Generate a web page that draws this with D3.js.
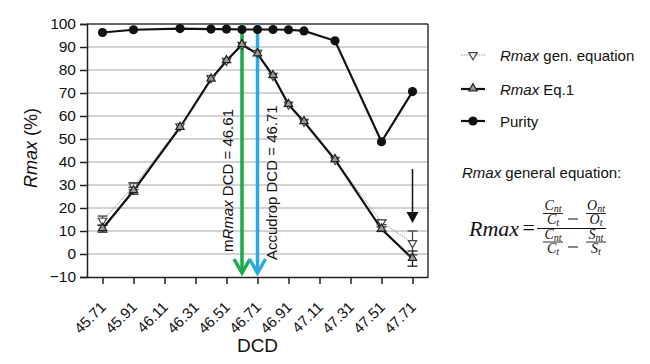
<!DOCTYPE html>
<html><head><meta charset="utf-8">
<script src="https://cdn.jsdelivr.net/npm/d3@7"></script>
<style>body{margin:0;background:#fff}</style>
</head><body><svg id="c" width="650" height="364" font-family="Liberation Sans, Arial, sans-serif"></svg>
<script>
const dcd = [45.71,45.91,46.21,46.41,46.51,46.61,46.71,46.81,46.91,47.01,47.21,47.51,47.71];
const rmaxGen = [14.5,29.5,55.5,76.5,84,91,87.5,77.5,65,57.5,41,13.8,4.8];
const rmaxGenErr = [2,1.5,0,0,0,0,0,0,0,0,0,1,5.2];
const rmaxEq1 = [11,27.5,55,76,84,91,87,77.5,65,57.5,41,10.8,-2];
const rmaxEq1Err = [1.5,1.5,0,0,0,0,0,0,0,0,0,1,3.3];
const purity = [96.3,97.5,98,97.8,97.8,97.6,97.6,97.6,97.5,97,92.7,48.8,70.6];
const xTicks = [45.71,45.91,46.11,46.31,46.51,46.71,46.91,47.11,47.31,47.51,47.71];
const yTicks = [-10,0,10,20,30,40,50,60,70,80,90,100];
const mRmaxDCD = 46.61, accudropDCD = 46.71, arrowDCD = 47.71;

const SANS = "Liberation Sans, Arial, sans-serif";
const SERIF = "Liberation Serif, DejaVu Serif, serif";
const svg = d3.select("#c");
const x = d3.scaleLinear().domain([45.61,47.81]).range([87,428]);
const y = d3.scaleLinear().domain([-10,100]).range([277,24]);

// grid
svg.append("g").selectAll("line").data(yTicks.filter(v=>v>-10&&v<100)).join("line")
  .attr("x1",87).attr("x2",428).attr("y1",d=>y(d)).attr("y2",d=>y(d))
  .attr("stroke","#c4c4c4").attr("stroke-width",1.5);
// frame top/right
svg.append("line").attr("x1",87).attr("x2",428).attr("y1",y(100)).attr("y2",y(100)).attr("stroke","#333").attr("stroke-width",1.5);
svg.append("line").attr("x1",428).attr("x2",428).attr("y1",y(100)).attr("y2",y(-10)).attr("stroke","#333").attr("stroke-width",1.5);

// axes
const ya = svg.append("g").attr("transform","translate(87,0)")
  .call(d3.axisLeft(y).tickValues(yTicks).tickSize(7).tickPadding(4).tickFormat(d=>d<0?"\u2212"+Math.abs(d):d));
ya.attr("font-family",SANS);
ya.selectAll("text").attr("font-size",15.5).attr("fill","#111");
ya.selectAll("line,path").attr("stroke","#222").attr("stroke-width",1.5);

const xa = svg.append("g").attr("transform","translate(0,277)")
  .call(d3.axisBottom(x).tickValues(xTicks).tickSize(7).tickSizeOuter(0).tickFormat(d3.format(".2f")));
xa.attr("font-family",SANS);
xa.selectAll("line,path").attr("stroke","#222").attr("stroke-width",1.5);
xa.selectAll("text").attr("font-size",15).attr("fill","#111")
  .attr("text-anchor","end").attr("y",0).attr("dy",0).attr("transform","translate(4,31) rotate(-45)");

// axis titles
svg.append("text").attr("x",257.5).attr("y",352).attr("text-anchor","middle").attr("font-size",19).attr("fill","#111").text("DCD");
const yt = svg.append("text").attr("transform","translate(37,148) rotate(-90)").attr("text-anchor","middle").attr("font-size",18).attr("fill","#111");
yt.append("tspan").attr("font-style","italic").text("Rmax");
yt.append("tspan").text(" (%)");

// vertical colored lines with chevrons
function vArrow(v,color){
  const g = svg.append("g");
  g.append("line").attr("x1",x(v)).attr("x2",x(v)).attr("y1",y(100)).attr("y2",273).attr("stroke",color).attr("stroke-width",3.5);
  g.append("path").attr("d",`M${x(v)-8},${259}L${x(v)},${273}L${x(v)+8},${259}`).attr("fill","none").attr("stroke",color).attr("stroke-width",3.5).attr("stroke-linejoin","miter");
}

// labels
const t1 = svg.append("text").attr("transform",`translate(${x(mRmaxDCD)-9},252) rotate(-90)`).attr("font-size",15).attr("fill","#111");
t1.append("tspan").text("m"); t1.append("tspan").attr("font-style","italic").text("Rmax"); t1.append("tspan").text(" DCD = 46.61");
svg.append("text").attr("transform",`translate(${x(accudropDCD)+19},260) rotate(-90)`).attr("font-size",15).attr("fill","#111").text("Accudrop DCD = 46.71");

// series lines
const line = (arr)=>d3.line().x((d,i)=>x(dcd[i])).y(d=>y(d))(arr);
svg.append("path").attr("d",line(rmaxGen)).attr("fill","none").attr("stroke","#999").attr("stroke-width",1).attr("stroke-dasharray","1.5,1");
svg.append("path").attr("d",line(rmaxEq1)).attr("fill","none").attr("stroke","#111").attr("stroke-width",2.2);
svg.append("path").attr("d",line(purity)).attr("fill","none").attr("stroke","#111").attr("stroke-width",2.2);

// error bars
function errBars(vals,errs,col){
  const g = svg.append("g").attr("stroke",col).attr("stroke-width",1.3);
  vals.forEach((v,i)=>{ if(!errs[i]) return; const cx=x(dcd[i]);
    g.append("line").attr("x1",cx).attr("x2",cx).attr("y1",y(v+errs[i])).attr("y2",y(v-errs[i]));
    [v+errs[i],v-errs[i]].forEach(e=>g.append("line").attr("x1",cx-5).attr("x2",cx+5).attr("y1",y(e)).attr("y2",y(e)));
  });
}
errBars(rmaxGen,rmaxGenErr,"#444");
errBars(rmaxEq1,rmaxEq1Err,"#222");

vArrow(mRmaxDCD,"#1aab4b");
vArrow(accudropDCD,"#2aaae2");

const triUp = d3.symbol().type(d3.symbolTriangle).size(30);
svg.append("g").selectAll("path").data(rmaxGen).join("path")
  .attr("d",triUp).attr("transform",(d,i)=>`translate(${x(dcd[i])},${y(d)}) rotate(180)`)
  .attr("fill","#fff").attr("stroke","#444").attr("stroke-width",1.2);
svg.append("g").selectAll("path").data(rmaxEq1).join("path")
  .attr("d",triUp).attr("transform",(d,i)=>`translate(${x(dcd[i])},${y(d)-0.5})`)
  .attr("fill","#999").attr("stroke","#222").attr("stroke-width",1.2);
svg.append("g").selectAll("circle").data(purity).join("circle")
  .attr("cx",(d,i)=>x(dcd[i])).attr("cy",d=>y(d)).attr("r",4.6).attr("fill","#111");

// black arrow
svg.append("line").attr("x1",x(arrowDCD)).attr("x2",x(arrowDCD)).attr("y1",169).attr("y2",214).attr("stroke","#111").attr("stroke-width",1.5);
svg.append("path").attr("d",`M${x(arrowDCD)-6},212L${x(arrowDCD)+6},212L${x(arrowDCD)},223Z`).attr("fill","#111");

// legend
const lg = svg.append("g");
const L = [{y:55,t:" gen. equation",k:"gen"},{y:89,t:" Eq.1",k:"eq1"},{y:121,t:"Purity",k:"pur"}];
L.forEach(d=>{
  if(d.k==="gen"){
    lg.append("line").attr("x1",461).attr("x2",485).attr("y1",d.y).attr("y2",d.y).attr("stroke","#999").attr("stroke-width",1).attr("stroke-dasharray","1.5,1");
    lg.append("path").attr("d",triUp).attr("transform",`translate(473,${d.y}) rotate(180)`).attr("fill","#fff").attr("stroke","#444").attr("stroke-width",1.2);
  } else if(d.k==="eq1"){
    lg.append("line").attr("x1",461).attr("x2",485).attr("y1",d.y).attr("y2",d.y).attr("stroke","#111").attr("stroke-width",2.2);
    lg.append("path").attr("d",triUp).attr("transform",`translate(473,${d.y-0.5})`).attr("fill","#999").attr("stroke","#222").attr("stroke-width",1.2);
  } else {
    lg.append("line").attr("x1",461).attr("x2",485).attr("y1",d.y).attr("y2",d.y).attr("stroke","#111").attr("stroke-width",2.2);
    lg.append("circle").attr("cx",473).attr("cy",d.y).attr("r",4.6).attr("fill","#111");
  }
  const t = lg.append("text").attr("x",500).attr("y",d.y+5.5).attr("font-size",15).attr("fill","#111");
  if(d.k!=="pur") t.append("tspan").attr("font-style","italic").text("Rmax");
  t.append("tspan").text(d.t);
});

// formula
const ft = svg.append("text").attr("x",462).attr("y",178).attr("font-size",15).attr("fill","#111");
ft.append("tspan").attr("font-style","italic").text("Rmax");
ft.append("tspan").text(" general equation:");

const F = svg.append("g").attr("font-family",SERIF).attr("fill","#111");
F.append("text").attr("x",469).attr("y",236).attr("font-size",22).attr("font-style","italic").text("Rmax");
F.append("text").attr("x",535).attr("y",235).attr("font-size",22).attr("text-anchor","end").text("=");
F.append("line").attr("x1",537).attr("x2",606).attr("y1",228.5).attr("y2",228.5).attr("stroke","#111").attr("stroke-width",1.2);
function small(cx,yNum,yBar,yDen,L,sN,sD){
  const n = F.append("text").attr("x",cx).attr("y",yNum).attr("text-anchor","middle").attr("font-size",14).attr("font-style","italic");
  n.append("tspan").text(L); n.append("tspan").attr("font-size",10).attr("dy",2).text(sN);
  F.append("line").attr("x1",cx-10).attr("x2",cx+10).attr("y1",yBar).attr("y2",yBar).attr("stroke","#111").attr("stroke-width",0.9);
  const d = F.append("text").attr("x",cx).attr("y",yDen).attr("text-anchor","middle").attr("font-size",14).attr("font-style","italic");
  d.append("tspan").text(L); d.append("tspan").attr("font-size",10).attr("dy",2).text(sD);
}
small(553,210,213.5,224,"C","nt","t");
small(596,210,213.5,224,"O","nt","t");
small(553,239,242,252.5,"C","nt","t");
small(596,239,242,252.5,"S","nt","t");
F.append("line").attr("x1",568).attr("x2",578).attr("y1",219).attr("y2",219).attr("stroke","#111").attr("stroke-width",1);
F.append("line").attr("x1",568).attr("x2",578).attr("y1",247).attr("y2",247).attr("stroke","#111").attr("stroke-width",1);
</script></body></html>
